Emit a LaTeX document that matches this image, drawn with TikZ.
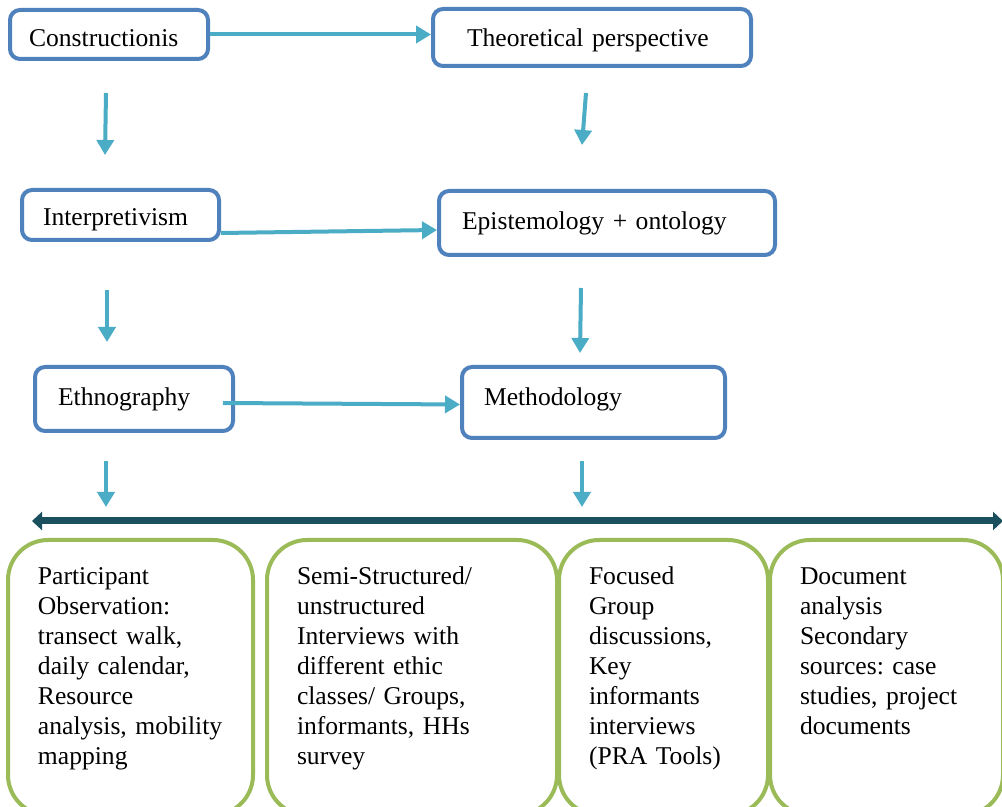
\documentclass[tikz,border=0pt]{standalone}
\usepackage{fontspec}
\setmainfont{Liberation Serif}
\usetikzlibrary{arrows.meta, positioning}
\definecolor{boxblue}{RGB}{79,129,189}
\definecolor{flowcyan}{RGB}{75,172,198}
\definecolor{spanteal}{RGB}{26,80,94}
\definecolor{toolgreen}{RGB}{155,187,89}
\frenchspacing
\hyphenpenalty=10000

\begin{document}
\begin{tikzpicture}[
    x=0.5pt, y=-0.5pt,
    box/.style={rectangle, rounded corners=5pt, draw=boxblue, line width=2pt, fill=white, align=left, font=\fontsize{12.8}{15}\selectfont, inner xsep=11pt, inner ysep=0pt},
    tool/.style={rectangle, rounded corners=20pt, draw=toolgreen, line width=2pt, align=left, anchor=north west, font=\fontsize{12.8}{15}\selectfont, inner xsep=15pt, inner ysep=0pt, text height=22.5pt, text depth=115pt},
    arrow/.style={-{Triangle[length=7.5pt, width=8.5pt]}, line width=2pt, flowcyan},
    span/.style={{Triangle[length=5pt, width=9pt]}-{Triangle[length=5pt, width=9pt]}, line width=3.5pt, spanteal},
]

\fill[white] (0,0) rectangle (1002,807);
\useasboundingbox (0,0) rectangle (1002,807);
\clip (0,0) rectangle (1002,807);

% Left column
\node[box, minimum width=99pt, minimum height=24.5pt, text width=80pt, inner xsep=9.5pt, text height=11.8pt] (cons) at (109,34.5) {Constructionis};
\node[box, minimum width=98.5pt, minimum height=25pt, text width=77.5pt, inner xsep=10.5pt, text height=13.5pt] (interp) at (120.5,215) {Interpretivism};
\node[box, minimum width=99pt, minimum height=32pt, text width=76pt, inner xsep=11.5pt] (ethno) at (134,399) {Ethnography};

% Right column
\node[box, minimum width=159pt, minimum height=28.5pt, text width=125pt, inner xsep=17pt, text height=11.8pt] (theo) at (592,37.5) {Theoretical perspective};
\node[box, minimum width=168pt, minimum height=32pt, text width=145pt, inner xsep=11.5pt] (epist) at (607,223) {Epistemology + ontology};
\node[box, minimum width=131.5pt, minimum height=35.5pt, text width=109.5pt, text depth=5.8pt] (meth) at (593.5,402.5) {Methodology};

% Methods
\node[tool, minimum width=122.5pt, text width=92.5pt] (observe) at (6,538) {Participant\\ Observation:\\ transect walk,\\ daily calendar,\\ Resource\\ analysis, mobility\\ mapping};
\node[tool, minimum width=145pt, text width=115pt] (interview) at (265,538) {Semi-Structured/\\ unstructured\\ Interviews with\\ different ethic\\ classes/ Groups,\\ informants, HHs\\ survey};
\node[tool, minimum width=104.5pt, text width=74.5pt] (focus) at (557,538) {Focused\\ Group\\ discussions,\\ Key\\ informants\\ interviews\\ (PRA Tools)};
\node[tool, minimum width=116.5pt, text width=86.5pt] (docs) at (768,538) {Document\\ analysis\\ Secondary\\ sources: case\\ studies, project\\ documents};

% Arrow ends
\coordinate (d1top) at (106,93);  \coordinate (d1end) at (105,155);
\coordinate (d2top) at (586,93);  \coordinate (d2end) at (582,145);
\coordinate (d3top) at (107,290); \coordinate (d3end) at (107,342);
\coordinate (d4top) at (581,288); \coordinate (d4end) at (580,353);
\coordinate (d5top) at (106,461); \coordinate (d5end) at (106,507);
\coordinate (d6top) at (582,461); \coordinate (d6end) at (582,507);
\coordinate (spanL) at (32,521);  \coordinate (spanR) at (1003,521);

% Arrows
\draw[arrow] (cons.east) -- (cons.east -| theo.west);
\draw[arrow] ([yshift=-9pt]interp.east) -- ([yshift=-3.5pt]epist.west);
\draw[arrow] ([xshift=-6pt,yshift=-2pt]ethno.east) -- ([yshift=-1pt]meth.west);
\draw[arrow] (d1top) -- (d1end);
\draw[arrow] (d2top) -- (d2end);
\draw[arrow] (d3top) -- (d3end);
\draw[arrow] (d4top) -- (d4end);
\draw[arrow] (d5top) -- (d5end);
\draw[arrow] (d6top) -- (d6end);
\draw[span] (spanL) -- (spanR);

\end{tikzpicture}
\end{document}
